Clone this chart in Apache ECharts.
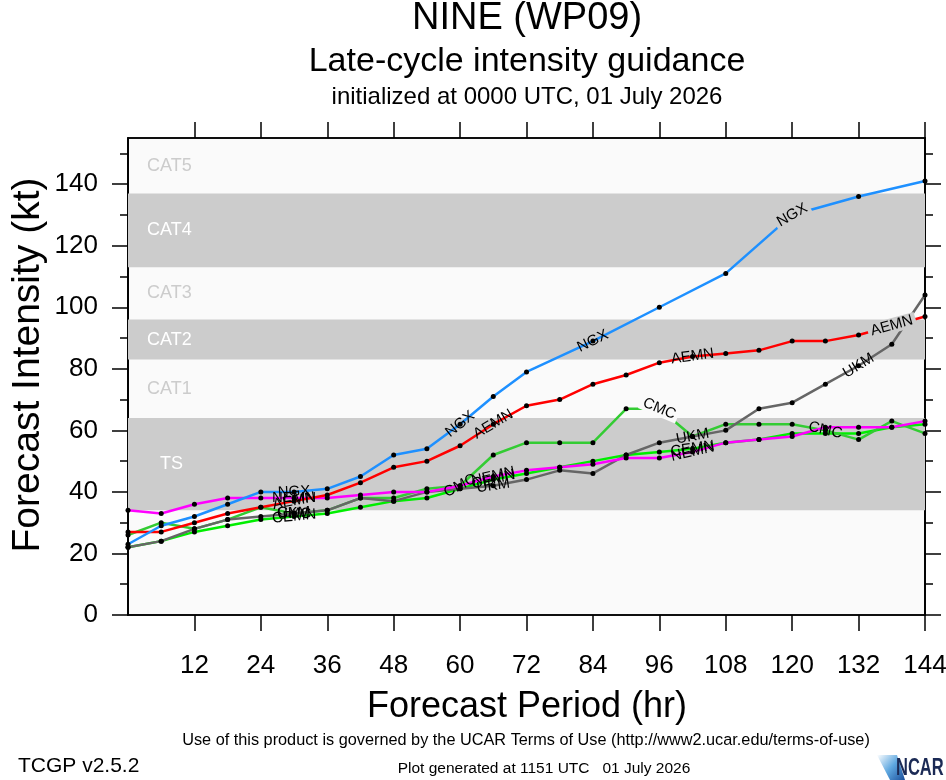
<!DOCTYPE html>
<html><head><meta charset="utf-8">
<script src="https://cdn.jsdelivr.net/npm/echarts@6/dist/echarts.min.js"></script>
<style>html,body{margin:0;padding:0;background:#fff}#c{width:946px;height:780px}</style>
</head><body><div id="c"></div>
<script>
// ---- data ----
const hours = [0,6,12,18,24,30,36,42,48,54,60,66,72,78,84,90,96,102,108,114,120,126,132,138,144];
const ngx  = [23,29,32,36,40,40,41,45,52,54,62,71,79,null,89,null,100,null,111,null,130,null,136,null,141];
const aemn = [27,27,30,33,35,37,39,43,48,50,55,62,68,70,75,78,82,84,85,86,89,89,91,94,97];
const ukm  = [22,24,28,31,32,33,34,38,37,40,41,42,44,47,46,52,56,58,60,67,69,75,81,88,104];
const cmc  = [26,30,28,31,35,33,34,38,38,41,42,52,56,56,56,67,67,58,62,62,62,60,57,63,59];
const nemn = [34,33,36,38,38,38,38,39,40,40,42,45,47,48,49,51,51,53,56,57,58,61,61,61,63];
const cemn = [22,24,27,29,31,32,33,35,37,38,41,44,46,48,50,52,53,54,56,57,59,59,59,61,62];
const yTicks = [0,20,40,60,80,100,120,140];
const yMinor = [10,30,50,70,90,110,130,150];
const xTicks = [12,24,36,48,60,72,84,96,108,120,132,144];
const bandNames = ['TS','CAT1','CAT2','CAT3','CAT4','CAT5'];
const bandFrom  = [34,64,83,96,113,137];
const bandTo    = [64,83,96,113,137,155];

// ---- styling ----
const FONT = '"Liberation Sans", Arial, Helvetica, sans-serif';
// label spec: [hour, dx, dy, gap-background]
const models = [
  {name:'CEMN', values:cemn, color:'#00ee00', labels:[[30,0,0,0],[66,6,0,0],[102,4,0,0]]},
  {name:'CMC',  values:cmc,  color:'#33cc33', labels:[[30,0,0,0],[60,15,-16,0],[96,-10,0,1],[126,0,0,0]]},
  {name:'UKM',  values:ukm,  color:'#666666', labels:[[30,0,0,0],[66,-15,0,0],[102,-16,0,0],[132,0,0,0]]},
  {name:'NEMN', values:nemn, color:'#ff00ff', labels:[[30,0,0,0],[66,16,0,0],[102,16,0,0]]},
  {name:'AEMN', values:aemn, color:'#ff0000', labels:[[30,0,0,0],[66,-6,0,0],[102,0,0,0],[138,-10,0,1]]},
  {name:'NGX',  values:ngx,  color:'#1e90ff', labels:[[30,0,0,0],[60,4,0,0],[84,41,-17,0],[120,0,0,1]]}
];
const bandFill = ['#cccccc','rgba(0,0,0,0)','#cccccc','rgba(0,0,0,0)','#cccccc','rgba(0,0,0,0)'];
const bandBg   = ['#cccccc','#fafafa','#cccccc','#fafafa','#cccccc','#fafafa'];
const bandText = ['#ffffff','#cccccc','#ffffff','#cccccc','#ffffff','#cccccc'];
const bandDx   = [27,14,14,14,14,14];

function bgFor(v) {
  for (let i = 0; i < bandFrom.length; i++) if (v >= bandFrom[i] && v < bandTo[i]) return bandBg[i];
  return '#fafafa';
}

const chart = echarts.init(document.getElementById('c'), null, {renderer:'canvas'});

function seriesData(m, angles) {
  const out = [];
  hours.forEach((h, i) => {
    const v = m.values[i];
    if (v == null) return;
    const lab = m.labels.find(l => l[0] === h);
    if (lab) {
      const lbl = {show:true, rotate: angles ? (angles[h] || 0) : 0, offset:[lab[1], lab[2]], formatter: m.name};
      if (lab[3]) { lbl.backgroundColor = bgFor(v); lbl.padding = [0, 3]; }
      out.push({value:[h, v], label:lbl});
    } else out.push([h, v]);
  });
  return out;
}

function buildOption(anglesMap) {
  const series = [{
    type:'line', name:'bands', data:[], z:1, silent:true,
    markArea:{silent:true,
      label:{show:true, position:'insideLeft', fontSize:18, fontFamily:FONT},
      data: bandNames.map((n,i)=>[
        {yAxis:bandFrom[i], name:n, itemStyle:{color:bandFill[i]},
         label:{color:bandText[i], offset:[bandDx[i],0]}},
        {yAxis:bandTo[i]}])
    }
  }];
  models.forEach(m => series.push({
    type:'line', name:m.name, z:3, data:seriesData(m, anglesMap ? anglesMap[m.name] : null),
    symbol:'circle', symbolSize:5, showAllSymbol:true,
    itemStyle:{color:'#000'}, lineStyle:{color:m.color, width:2.5},
    label:{show:false, position:'inside', color:'#000', fontSize:15, fontFamily:FONT},
    labelLayout:{hideOverlap:false}, emphasis:{disabled:true}
  }));
  const line = {show:true, onZero:false, lineStyle:{color:'#000', width:1.5}};
  const yBase = (pos, ticks, len, showLabel) => ({
    type:'value', min:0, max:155, position:pos, splitLine:{show:false}, axisLine:line,
    axisTick:{show:true, customValues:ticks, length:len, inside:false, lineStyle:{color:'#000', width:1.5}},
    axisLabel: showLabel ? {show:true, customValues:ticks, fontSize:26, color:'#000', margin:30, fontFamily:FONT} : {show:false}
  });
  const xBase = (pos, showLabel) => ({
    type:'value', min:0, max:144, position:pos, splitLine:{show:false}, axisLine:line,
    axisTick:{show:true, customValues:xTicks, length:16, inside:false, lineStyle:{color:'#000', width:1.5}},
    axisLabel: showLabel ? {show:true, customValues:xTicks, fontSize:26, color:'#000', margin:38, fontFamily:FONT} : {show:false}
  });
  const txt = (text, x, y, size, extra) => Object.assign({type:'text', x:x, y:y, silent:true,
    style:{text:text, fill:'#000', font: size + 'px ' + FONT, align:'center', verticalAlign:'middle'}}, extra || {});
  return {
    animation:false,
    backgroundColor:'#ffffff',
    grid:{left:128, right:21, top:138, bottom:165, show:true, backgroundColor:'#fafafa',
          borderColor:'#000', borderWidth:1.5, outerBoundsMode:'none', containLabel:false},
    xAxis:[xBase('bottom', true), xBase('top', false)],
    yAxis:[yBase('left', yTicks, 16, true), yBase('left', yMinor, 8, false),
           yBase('right', yTicks, 16, false), yBase('right', yMinor, 8, false)],
    series: series,
    graphic:[
      txt('NINE (WP09)', 527, 19, 38),
      txt('Late-cycle intensity guidance', 527, 62, 34),
      txt('initialized at 0000 UTC, 01 July 2026', 527, 97, 24),
      txt('Forecast Intensity (kt)', 28, 365, 39, {rotation: Math.PI/2}),
      txt('Forecast Period (hr)', 527, 707, 36),
      txt('Use of this product is governed by the UCAR Terms of Use (http://www2.ucar.edu/terms-of-use)', 526, 741, 16.3),
      {type:'text', x:18, y:766, silent:true, style:{text:'TCGP v2.5.2', fill:'#000', font:'21px ' + FONT, align:'left', verticalAlign:'middle'}},
      txt('Plot generated at 1151 UTC   01 July 2026', 544, 769, 15.5),
      {type:'polygon', silent:true, shape:{points:[[877,755],[897,755],[905,780],[890,780]]},
        style:{fill:new echarts.graphic.LinearGradient(0,0,1,1,[{offset:0,color:'#ffffff'},{offset:0.5,color:'#5fa8e0'},{offset:1,color:'#1a4f9c'}])}},
      {type:'text', x:896, y:769, scaleX:0.75, scaleY:1.05, silent:true,
        style:{text:'NCAR', fill:'#1b2a55', font:'bold 22px ' + FONT, align:'left', verticalAlign:'middle'}}
    ]
  };
}

chart.setOption(buildOption(null));
// label angles follow the line, measured from the pixel positions of neighbouring points
const anglesMap = {};
models.forEach(m => {
  anglesMap[m.name] = {};
  m.labels.forEach(l => {
    const h = l[0];
    const idx = hours.indexOf(h);
    let a = idx - 1; while (a >= 0 && m.values[a] == null) a--;
    let b = idx + 1; while (b < hours.length && m.values[b] == null) b++;
    if (a < 0) a = idx; if (b >= hours.length) b = idx;
    const p1 = chart.convertToPixel({xAxisIndex:0, yAxisIndex:0}, [hours[a], m.values[a]]);
    const p2 = chart.convertToPixel({xAxisIndex:0, yAxisIndex:0}, [hours[b], m.values[b]]);
    anglesMap[m.name][h] = Math.atan2(-(p2[1]-p1[1]), p2[0]-p1[0]) * 180 / Math.PI;
  });
});
chart.setOption(buildOption(anglesMap), {notMerge:true});
</script></body></html>
